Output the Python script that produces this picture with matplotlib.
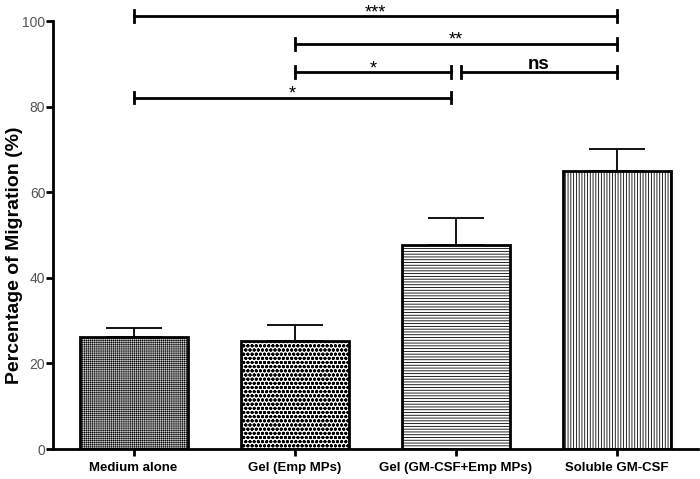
import matplotlib
matplotlib.use("Agg")
import matplotlib.pyplot as plt

categories = ["Medium alone", "Gel (Emp MPs)", "Gel (GM-CSF+Emp MPs)", "Soluble GM-CSF"]
means = [26.2, 25.3, 47.8, 65.1]
errors = [2.2, 3.7, 6.2, 5.0]
hatches = ["++++++++", "oooo", "------", "||||||"]
hatch_lws = [0.35, 1.0, 0.6, 0.6]
facecolors = ["#d0d0d0", "white", "white", "white"]
yticks = [0, 20, 40, 60, 80, 100]

# significance brackets: (start index, end index, y, label)
brackets = [(0, 3, 101.2, "***"), (1, 3, 94.7, "**"), (1, 2, 88.1, "*"),
            (2, 3, 88.1, "ns"), (0, 2, 82.2, "*")]

plt.rcParams["font.family"] = ["Liberation Sans", "DejaVu Sans"]

fig = plt.figure(figsize=(7.0, 4.79), dpi=100)
ax = fig.add_axes([0.0757, 0.0626, 0.921, 0.9374])

for i, (m, e, h, hl, fc) in enumerate(zip(means, errors, hatches, hatch_lws, facecolors)):
    with plt.rc_context({"hatch.linewidth": hl, "hatch.color": "black"}):
        ax.bar(i, m, width=0.67, color=fc, edgecolor="black",
               linewidth=2, hatch=h, zorder=2)
    ax.errorbar(i, m, yerr=[[0], [e]], fmt="none", ecolor="black",
                elinewidth=1.3, capsize=20, capthick=1.3, zorder=3)

ax.set_xlim(-0.5, 3.5)
ax.set_ylim(0, 105)
ax.spines["top"].set_visible(False)
ax.spines["right"].set_visible(False)
ax.spines["left"].set_linewidth(2)
ax.spines["bottom"].set_linewidth(2)
ax.spines["left"].set_bounds(0, 100)

ax.set_yticks(yticks)
ax.set_yticklabels([str(t) for t in yticks], color="#555555", fontsize=10)
ax.set_xticks(range(len(categories)))
ax.set_xticklabels(categories, fontsize=9.5, fontweight="bold")
ax.tick_params(axis="both", direction="out", length=5, width=2)
ax.tick_params(axis="y", pad=0.5)
ax.tick_params(axis="x", pad=4)
ax.set_ylabel("Percentage of Migration (%)", fontsize=14, fontweight="bold")
ax.yaxis.set_label_coords(-0.047, 0.432)

for a, b, y, lab in brackets:
    x0, x1 = a, b
    if (a, b) == (1, 2):
        x1 = b - 0.03
    if (a, b) == (2, 3):
        x0 = a + 0.03
    if (a, b) == (0, 2):
        x1 = b - 0.03
    ax.plot([x0, x1], [y, y], color="black", lw=2, clip_on=False, zorder=4)
    for xx in (x0, x1):
        ax.plot([xx, xx], [y - 1.4, y + 1.4], color="black", lw=2,
                clip_on=False, zorder=4)
    if lab == "ns":
        ax.text((x0 + x1) / 2, y + 0.7, lab, ha="center", va="baseline",
                fontsize=13.5, fontweight="bold", clip_on=False)
    else:
        ax.text((x0 + x1) / 2, y - 0.2, lab, ha="center", va="baseline",
                fontsize=13, clip_on=False)

fig.savefig("out.png", dpi=100)
